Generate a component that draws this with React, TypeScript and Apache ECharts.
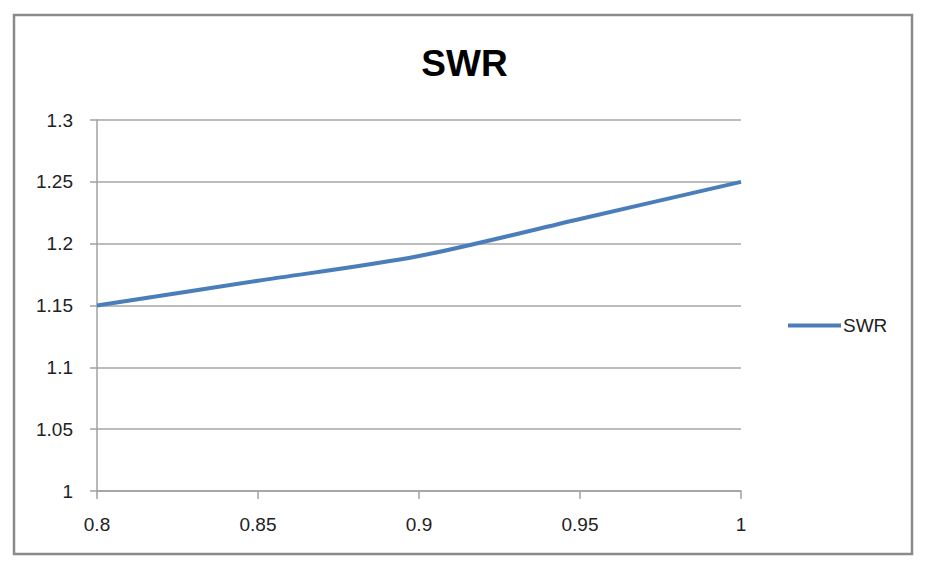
import React, { useEffect, useRef } from "react";
import * as echarts from "echarts";

const titleText = "SWR";
const seriesName = "SWR";
const xValues = [0.8, 0.85, 0.9, 0.95, 1];
const swrValues = [1.15, 1.17, 1.19, 1.22, 1.25];

export default function App() {
  const ref = useRef<HTMLDivElement>(null);
  useEffect(() => {
    document.body.style.margin = "0";
    const chart = echarts.init(ref.current!, null, { renderer: "svg" });
    const font = "'Liberation Sans', Arial, sans-serif";
    chart.setOption({
      animation: false,
      backgroundColor: "#ffffff",
      textStyle: { fontFamily: font },
      title: {
        text: titleText,
        left: "center",
        top: 40,
        textStyle: { fontFamily: font, fontSize: 37, fontWeight: "bold", color: "#000" },
      },
      graphic: [
        {
          type: "rect",
          shape: { x: 14, y: 15, width: 898, height: 539 },
          style: { fill: "none", stroke: "#8a8a8a", lineWidth: 2.5 },
          silent: true,
        },
      ],
      legend: {
        left: 783,
        top: 311,
        orient: "vertical",
        icon: "rect",
        itemWidth: 53,
        itemHeight: 4,
        itemGap: 0,
        textStyle: { fontFamily: font, fontSize: 19, color: "#222", padding: [0, 0, 0, -3] },
        data: [seriesName],
      },
      grid: { left: 97, right: 188, top: 120, bottom: 85, containLabel: false },
      xAxis: {
        type: "value",
        min: 0.8,
        max: 1,
        interval: 0.05,
        axisLine: { show: true, lineStyle: { color: "#a0a0a0", width: 1.5 } },
        axisTick: { show: true, length: 8, lineStyle: { color: "#a0a0a0", width: 1.5 } },
        splitLine: { show: false },
        axisLabel: { margin: 24, fontSize: 19, color: "#222", fontFamily: font },
      },
      yAxis: {
        type: "value",
        min: 1,
        max: 1.3,
        interval: 0.05,
        axisLine: { show: true, lineStyle: { color: "#a0a0a0", width: 1.5 } },
        axisTick: { show: true, length: 7, lineStyle: { color: "#a0a0a0", width: 1.5 } },
        splitLine: { show: true, lineStyle: { color: "#a6a6a6", width: 1.5 } },
        axisLabel: { margin: 24, fontSize: 19, color: "#222", fontFamily: font },
      },
      series: [
        {
          name: seriesName,
          type: "line",
          data: xValues.map((x, i) => [x, swrValues[i]]),
          smooth: 0.3,
          showSymbol: false,
          symbol: "none",
          lineStyle: { color: "#4a7ebb", width: 4 },
          itemStyle: { color: "#4a7ebb" },
        },
      ],
    });
    return () => chart.dispose();
  }, []);
  return <div ref={ref} style={{ width: 929, height: 576 }} />;
}
